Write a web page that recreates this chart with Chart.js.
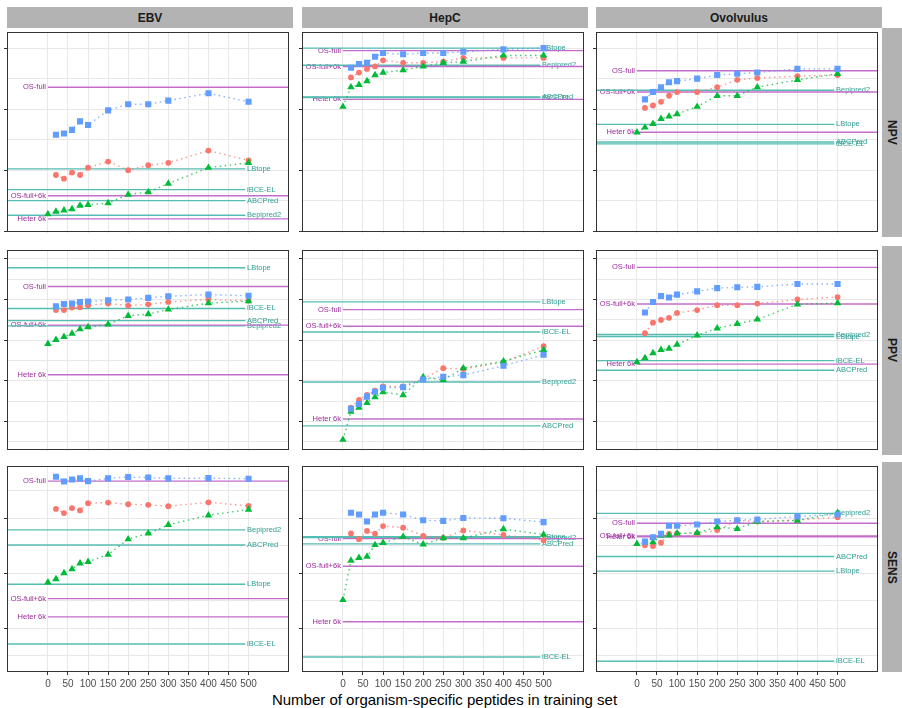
<!DOCTYPE html>
<html><head><meta charset="utf-8">
<script src="https://cdn.jsdelivr.net/npm/chart.js@4.4.1/dist/chart.umd.min.js"></script>
<style>
html,body{margin:0;padding:0;background:#fff;}
#wrap{position:relative;width:902px;height:708px;overflow:hidden;font-family:"Liberation Sans",Arial,sans-serif;background:#fff;}
.strip{position:absolute;background:#B3B3B3;color:#1A1A1A;font-weight:bold;font-size:12px;display:flex;align-items:center;justify-content:center;}
.vstrip span{writing-mode:vertical-rl;}
canvas{position:absolute;}
#xtitle{position:absolute;left:7px;width:875px;top:691px;text-align:center;font-size:15px;color:#000;line-height:18px;}
</style></head>
<body><div id="wrap"></div>
<script>
// ---------------- data ----------------
const columns = ['EBV', 'HepC', 'Ovolvulus'];
const rows = ['NPV', 'PPV', 'SENS'];
const seriesNames = ['Model 1 (circles)', 'Model 2 (triangles)', 'Model 3 (squares)'];
const xWithZero = [0, 20, 40, 60, 80, 100, 150, 200, 250, 300, 400, 500];
const xFrom20 = [20, 40, 60, 80, 100, 150, 200, 250, 300, 400, 500];
const xTickValues = [0, 50, 100, 150, 200, 250, 300, 350, 400, 450, 500];
const refNames = ['OS-full', 'OS-full+6k', 'Heter 6k', 'LBtope', 'iBCE-EL', 'ABCPred', 'Bepipred2'];
const refIsOwn = [true, true, true, false, false, false, false];

const yMajorNPV = [0.70, 0.75, 0.80, 0.85];
const yMinorNPV = [0.725, 0.775, 0.825];
const yMajorPPV = [0.4, 0.5, 0.6, 0.7, 0.8];
const yMinorPPV = [0.35, 0.45, 0.55, 0.65, 0.75];
const yMajorSENS = [0.2, 0.4, 0.6];
const yMinorSENS = [0.1, 0.3, 0.5, 0.7];

// NPV row
const ebvNpvRed   = [0.746,0.743,0.748,0.746,0.752,0.757,0.750,0.754,0.756,0.766,0.758];
const ebvNpvGreen = [0.714,0.716,0.717,0.718,0.721,0.7215,0.723,0.730,0.732,0.739,0.752,0.756];
const ebvNpvBlue  = [0.779,0.780,0.783,0.790,0.787,0.799,0.804,0.804,0.807,0.813,0.806];
const ebvNpvRefs  = [0.818,0.729,0.710,0.751,0.734,0.725,0.713];

const hepcNpvRed   = [0.826,0.830,0.833,0.835,0.840,0.838,0.838,0.839,0.842,0.842,0.842];
const hepcNpvGreen = [0.802,0.818,0.820,0.823,0.828,0.830,0.832,0.835,0.838,0.839,0.844,0.844];
const hepcNpvBlue  = [0.834,0.837,0.838,0.843,0.846,0.845,0.846,0.846,0.847,0.849,0.850];
const hepcNpvRefs  = [0.848,0.835,0.808,0.850,0.8095,0.810,0.836];

const ovoNpvRed   = [0.801,0.803,0.806,0.811,0.814,0.814,0.818,0.824,0.8255,0.827,0.828];
const ovoNpvGreen = [0.781,0.785,0.788,0.792,0.794,0.796,0.802,0.811,0.811,0.818,0.824,0.829];
const ovoNpvBlue  = [0.808,0.814,0.818,0.822,0.823,0.825,0.828,0.829,0.830,0.833,0.833];
const ovoNpvRefs  = [0.8315,0.814,0.781,0.7875,0.7715,0.773,0.8155];

// PPV row
const ebvPpvRed   = [0.674,0.674,0.680,0.681,0.686,0.690,0.685,0.688,0.694,0.700,0.697];
const ebvPpvGreen = [0.591,0.601,0.608,0.616,0.627,0.632,0.639,0.660,0.664,0.6755,0.691,0.696];
const ebvPpvBlue  = [0.683,0.689,0.690,0.694,0.695,0.698,0.700,0.704,0.708,0.712,0.709];
const ebvPpvRefs  = [0.732,0.637,0.515,0.778,0.678,0.648,0.635];

const hepcPpvRed   = [0.434,0.453,0.465,0.476,0.486,0.486,0.505,0.531,0.529,0.546,0.585];
const hepcPpvGreen = [0.355,0.424,0.434,0.446,0.460,0.472,0.465,0.509,0.502,0.531,0.548,0.576];
const hepcPpvBlue  = [0.431,0.443,0.461,0.473,0.483,0.484,0.503,0.510,0.514,0.537,0.564];
const hepcPpvRefs  = [0.675,0.634,0.406,0.694,0.620,0.389,0.497];

const ovoPpvRed   = [0.617,0.643,0.6495,0.655,0.667,0.674,0.686,0.686,0.690,0.700,0.706];
const ovoPpvGreen = [0.546,0.556,0.568,0.576,0.579,0.589,0.612,0.629,0.640,0.651,0.688,0.691];
const ovoPpvBlue  = [0.668,0.694,0.7085,0.705,0.712,0.720,0.728,0.730,0.731,0.738,0.738];
const ovoPpvRefs  = [0.779,0.689,0.541,0.609,0.5495,0.526,0.614];

// SENS row
const ebvSensRed   = [0.634,0.619,0.637,0.6285,0.655,0.657,0.651,0.649,0.644,0.658,0.645];
const ebvSensGreen = [0.367,0.379,0.401,0.415,0.436,0.442,0.468,0.524,0.545,0.576,0.611,0.632];
const ebvSensBlue  = [0.751,0.734,0.741,0.745,0.735,0.745,0.750,0.748,0.745,0.746,0.744];
const ebvSensRefs  = [0.735,0.308,0.2415,0.360,0.143,0.503,0.558];

const hepcSensRed   = [0.545,0.524,0.554,0.544,0.5715,0.566,0.536,0.529,0.556,0.5395,0.5205];
const hepcSensGreen = [0.303,0.446,0.456,0.461,0.503,0.511,0.533,0.505,0.528,0.528,0.561,0.541];
const hepcSensBlue  = [0.620,0.614,0.588,0.614,0.620,0.614,0.593,0.5905,0.601,0.600,0.586];
const hepcSensRefs  = [0.526,0.4255,0.224,0.533,0.0955,0.507,0.530];

const ovoSensRed   = [0.5015,0.499,0.511,0.543,0.545,0.545,0.557,0.592,0.588,0.594,0.604];
const ovoSensGreen = [0.507,0.513,0.513,0.537,0.538,0.545,0.547,0.568,0.562,0.588,0.592,0.620];
const ovoSensBlue  = [0.515,0.531,0.544,0.573,0.573,0.5775,0.588,0.593,0.595,0.607,0.614];
const ovoSensRefs  = [0.582,0.536,0.533,0.408,0.080,0.461,0.618];

// ---------------- assembly ----------------
const panels = [
  [ {r:ebvNpvRed,g:ebvNpvGreen,b:ebvNpvBlue,refs:ebvNpvRefs},
    {r:hepcNpvRed,g:hepcNpvGreen,b:hepcNpvBlue,refs:hepcNpvRefs},
    {r:ovoNpvRed,g:ovoNpvGreen,b:ovoNpvBlue,refs:ovoNpvRefs} ],
  [ {r:ebvPpvRed,g:ebvPpvGreen,b:ebvPpvBlue,refs:ebvPpvRefs},
    {r:hepcPpvRed,g:hepcPpvGreen,b:hepcPpvBlue,refs:hepcPpvRefs},
    {r:ovoPpvRed,g:ovoPpvGreen,b:ovoPpvBlue,refs:ovoPpvRefs} ],
  [ {r:ebvSensRed,g:ebvSensGreen,b:ebvSensBlue,refs:ebvSensRefs},
    {r:hepcSensRed,g:hepcSensGreen,b:hepcSensBlue,refs:hepcSensRefs},
    {r:ovoSensRed,g:ovoSensGreen,b:ovoSensBlue,refs:ovoSensRefs} ]
];
const rowTicks = [[yMajorNPV,yMinorNPV],[yMajorPPV,yMinorPPV],[yMajorSENS,yMinorSENS]];
const rowRange = [[0.6987,0.863],[0.328,0.821],[0.041,0.789]];

const colLeft = [7, 302, 596];
const panelW = 286;
const rowTop = [28, 246, 462];
const rowH = [209, 209, 210];
const X_MIN = -102, X_MAX = 600;

const RED = '#F8766D', GREEN = '#00BA38', BLUE = '#619CFF';
const PURPLE_LINE = '#C46CCB', PURPLE_TEXT = '#9B2A9B';
const TEAL_LINE = '#55BDB2', TEAL_TEXT = '#2E9D92';
const GRID = '#E8E8E8';
const FONT = '"Liberation Sans", Arial, sans-serif';
Chart.defaults.font.family = FONT;

const wrap = document.getElementById('wrap');

function pts(xs, ys) { return xs.map((x, i) => ({x: x, y: ys[i]})); }

// strips
columns.forEach((name, ci) => {
  const d = document.createElement('div');
  d.className = 'strip';
  d.style.cssText = `left:${colLeft[ci]}px;top:7px;width:${panelW}px;height:21px;`;
  d.textContent = name;
  wrap.appendChild(d);
});
rows.forEach((name, ri) => {
  const d = document.createElement('div');
  d.className = 'strip vstrip';
  d.style.cssText = `left:882px;top:${rowTop[ri]}px;width:20px;height:${rowH[ri]}px;`;
  const s = document.createElement('span');
  s.textContent = name;
  d.appendChild(s);
  wrap.appendChild(d);
});
const title = document.createElement('div');
title.id = 'xtitle';
title.textContent = 'Number of organism-specific peptides in training set';
wrap.appendChild(title);

function makePanel(ri, ci) {
  const p = panels[ri][ci];
  const L = 10, B = (ri === 2) ? 24 : 0;
  const canvas = document.createElement('canvas');
  canvas.width = panelW + L;
  canvas.height = rowH[ri] + B;
  canvas.style.left = (colLeft[ci] - L) + 'px';
  canvas.style.top = rowTop[ri] + 'px';
  wrap.appendChild(canvas);

  const datasets = [];
  p.refs.forEach((v, k) => {
    const own = refIsOwn[k];
    datasets.push({
      label: refNames[k],
      data: own ? [{x: 0, y: v}, {x: X_MAX, y: v}] : [{x: X_MIN, y: v}, {x: 492, y: v}],
      showLine: true, pointRadius: 0, borderWidth: 1.4,
      borderColor: own ? PURPLE_LINE : TEAL_LINE,
      order: 10
    });
  });
  const dotted = {showLine: true, borderDash: [1.5, 3.5], borderWidth: 1.4, pointBorderWidth: 0};
  datasets.push(Object.assign({}, dotted, {
    label: seriesNames[0], data: pts(xFrom20, p.r),
    borderColor: 'rgba(248,118,109,0.75)', backgroundColor: RED, pointBackgroundColor: RED,
    pointStyle: 'circle', pointRadius: 2.9, order: 3
  }));
  datasets.push(Object.assign({}, dotted, {
    label: seriesNames[1], data: pts(xWithZero, p.g),
    borderColor: 'rgba(0,186,56,0.75)', backgroundColor: GREEN, pointBackgroundColor: GREEN,
    pointStyle: 'triangle', pointRadius: 4.3, order: 2
  }));
  datasets.push(Object.assign({}, dotted, {
    label: seriesNames[2], data: pts(xFrom20, p.b),
    borderColor: 'rgba(97,156,255,0.75)', backgroundColor: BLUE, pointBackgroundColor: BLUE,
    pointStyle: 'rect', pointRadius: 4.3, order: 1
  }));

  const refLabels = {
    id: 'refLabels',
    beforeDatasetsDraw(chart) {
      const ctx = chart.ctx, xs = chart.scales.x, ys = chart.scales.y, a = chart.chartArea;
      ctx.save();
      ctx.beginPath(); ctx.rect(a.left, a.top, a.width, a.height); ctx.clip();
      ctx.font = '7.5px ' + FONT;
      ctx.textBaseline = 'middle';
      p.refs.forEach((v, k) => {
        const y = ys.getPixelForValue(v);
        if (refIsOwn[k]) {
          ctx.fillStyle = PURPLE_TEXT; ctx.textAlign = 'right';
          ctx.fillText(refNames[k], xs.getPixelForValue(-5), y);
        } else {
          ctx.fillStyle = TEAL_TEXT; ctx.textAlign = 'left';
          ctx.fillText(refNames[k], xs.getPixelForValue(496), y);
        }
      });
      ctx.restore();
    }
  };
  const border = {
    id: 'panelBorder',
    afterDraw(chart) {
      const a = chart.chartArea, ctx = chart.ctx;
      ctx.save();
      ctx.strokeStyle = '#333333'; ctx.lineWidth = 1;
      ctx.strokeRect(Math.round(a.left) + 0.5, Math.round(a.top) + 0.5,
                     Math.round(a.width) - 1, Math.round(a.height) - 1);
      ctx.restore();
    }
  };

  const [maj, mnr] = rowTicks[ri];
  new Chart(canvas, {
    type: 'scatter',
    data: {datasets},
    options: {
      responsive: false, animation: false, devicePixelRatio: 1,
      layout: {padding: 0},
      plugins: {legend: {display: false}, tooltip: {enabled: false}},
      scales: {
        x: {
          type: 'linear', min: X_MIN, max: X_MAX,
          afterBuildTicks: s => { s.ticks = xTickValues.map(v => ({value: v})); },
          afterFit: s => { s.height = B; },
          border: {display: false},
          grid: {color: GRID, lineWidth: 1, drawTicks: ri === 2, tickLength: 3, tickColor: '#333333'},
          ticks: {display: ri === 2, autoSkip: false, maxRotation: 0, padding: 3,
                  color: '#4D4D4D', font: {size: 10, family: FONT}}
        },
        y: {
          type: 'linear', min: rowRange[ri][0], max: rowRange[ri][1],
          afterBuildTicks: s => {
            const t = maj.map(v => ({value: v, isMajor: true})).concat(mnr.map(v => ({value: v, isMajor: false})));
            t.sort((a, b) => a.value - b.value);
            s.ticks = t;
          },
          afterFit: s => { s.width = L; },
          border: {display: false},
          grid: {color: GRID, lineWidth: 1, drawTicks: true, tickLength: 3,
                 tickColor: c => (c.tick && c.tick.isMajor) ? '#333333' : 'rgba(0,0,0,0)'},
          ticks: {display: false}
        }
      }
    },
    plugins: [refLabels, border]
  });
}

for (let ri = 0; ri < 3; ri++) for (let ci = 0; ci < 3; ci++) makePanel(ri, ci);
</script></body></html>
